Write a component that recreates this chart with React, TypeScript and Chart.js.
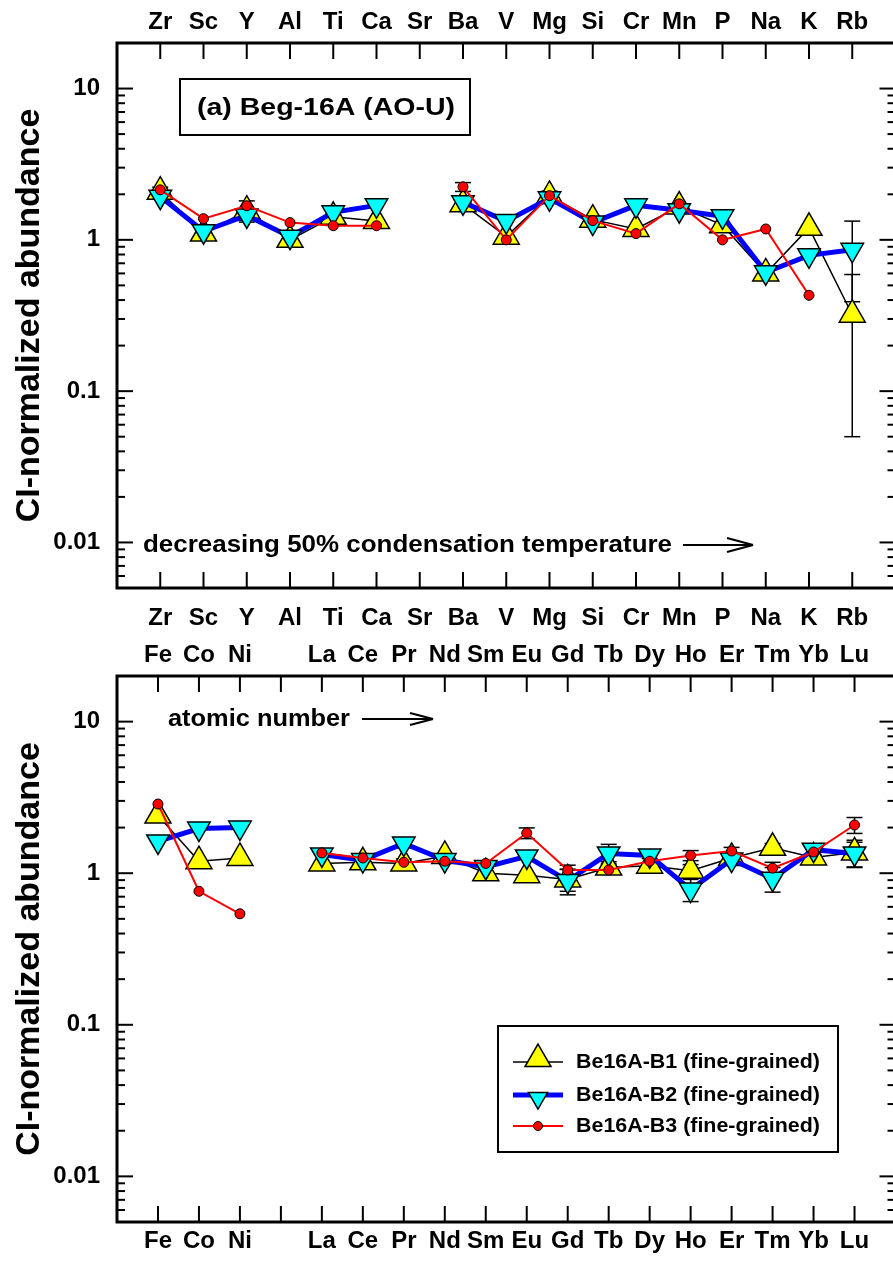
import React, { useEffect, useRef } from 'react';
import { Chart, registerables } from 'chart.js';

Chart.register(...registerables);

const FONT = '"Liberation Sans", Arial, Helvetica, sans-serif';

// ---------- data: panel (a), ordered by decreasing 50% condensation temperature ----------
const TOP_LABELS = ['Zr', 'Sc', 'Y', 'Al', 'Ti', 'Ca', 'Sr', 'Ba', 'V', 'Mg', 'Si', 'Cr', 'Mn', 'P', 'Na', 'K', 'Rb'];
const TOP_B1 = [2.08, 1.1, 1.56, 1.0, 1.42, 1.33, null, 1.72, 1.05, 1.95, 1.36, 1.18, 1.66, 1.25, 0.6, 1.2, 0.32];
const TOP_B2 = [1.93, 1.14, 1.45, 1.05, 1.52, 1.69, null, 1.77, 1.33, 1.88, 1.3, 1.69, 1.57, 1.43, 0.61, 0.79, 0.86];
const TOP_B3 = [2.14, 1.38, 1.68, 1.3, 1.24, 1.24, null, 2.24, 1.0, 1.96, 1.34, 1.1, 1.73, 1.0, 1.18, 0.43, null];
const TOP_B1_ERR = [0.15, null, 0.25, null, null, null, null, null, null, 0.15, null, null, null, null, null, null, 0.27];
const TOP_B2_ERR = [null, null, 0.1, null, null, null, null, null, null, null, null, null, null, null, null, null, 0.47];
const TOP_B3_ERR = [null, null, null, null, null, null, null, 0.15, null, null, null, null, null, null, null, null, null];

// ---------- data: lower panel, ordered by atomic number ----------
const BOT_LABELS = ['Fe', 'Co', 'Ni', '', 'La', 'Ce', 'Pr', 'Nd', 'Sm', 'Eu', 'Gd', 'Tb', 'Dy', 'Ho', 'Er', 'Tm', 'Yb', 'Lu'];
const BOT_B1 = [2.4, 1.2, 1.26, null, 1.16, 1.18, 1.16, 1.3, 1.0, 0.97, 0.91, 1.09, 1.12, 1.04, 1.26, 1.47, 1.27, 1.37];
const BOT_B2 = [1.62, 1.97, 2.0, null, 1.33, 1.22, 1.57, 1.22, 1.1, 1.29, 0.89, 1.35, 1.31, 0.78, 1.23, 0.92, 1.43, 1.35];
const BOT_B3 = [2.86, 0.76, 0.54, null, 1.36, 1.26, 1.18, 1.2, 1.16, 1.84, 1.05, 1.05, 1.2, 1.31, 1.4, 1.08, 1.38, 2.08];
const BOT_B1_ERR = [null, null, null, null, null, null, 0.08, null, 0.08, null, 0.15, 0.1, null, 0.1, null, 0.1, null, 0.28];
const BOT_B2_ERR = [null, null, null, null, null, null, 0.1, null, null, null, 0.17, 0.2, null, 0.13, null, 0.17, 0.1, 0.25];
const BOT_B3_ERR = [null, null, null, null, null, null, null, null, null, 0.15, 0.08, null, 0.05, 0.1, 0.08, 0.1, 0.08, 0.25];

const SERIES_NAMES = ['Be16A-B1 (fine-grained)', 'Be16A-B2 (fine-grained)', 'Be16A-B3 (fine-grained)'];
const Y_MIN = 0.005;
const Y_MAX = 20;
const Y_TICKS = [0.01, 0.1, 1, 10];
const Y_TITLE = 'CI-normalized abundance';
const PANEL_TITLE = '(a) Beg-16A (AO-U)';
const TOP_NOTE = 'decreasing 50% condensation temperature';
const BOT_NOTE = 'atomic number';

// ---------- styles ----------
const STYLES = [
  { borderColor: '#000000', borderWidth: 1.5, pointStyle: 'triangle', pointRotation: 0, pointRadius: 15, pointBackgroundColor: '#FFFF00', pointBorderColor: '#000000', pointBorderWidth: 1.5, order: 3 },
  { borderColor: '#0000FF', borderWidth: 5, pointStyle: 'triangle', pointRotation: 180, pointRadius: 13, pointBackgroundColor: '#00FFFF', pointBorderColor: '#000000', pointBorderWidth: 1.5, order: 2 },
  { borderColor: '#FF0000', borderWidth: 2, pointStyle: 'circle', pointRotation: 0, pointRadius: 5, pointBackgroundColor: '#FF0000', pointBorderColor: '#000000', pointBorderWidth: 1, order: 1 },
];

function makeDatasets(vals: (number | null)[][], errs: (number | null)[][]) {
  return vals.map((v, k) => ({
    label: SERIES_NAMES[k],
    data: v.map((y, i) => ({ x: i, y })),
    errors: errs[k],
    tension: 0,
    spanGaps: false,
    fill: false,
    pointHoverRadius: STYLES[k].pointRadius,
    ...STYLES[k],
  }));
}

function line(ctx: CanvasRenderingContext2D, x1: number, y1: number, x2: number, y2: number) {
  ctx.beginPath();
  ctx.moveTo(x1, y1);
  ctx.lineTo(x2, y2);
  ctx.stroke();
}

function stretchText(ctx: CanvasRenderingContext2D, text: string, x: number, y: number, size: number, width: number) {
  ctx.save();
  ctx.font = `bold ${size}px ${FONT}`;
  const w = ctx.measureText(text).width;
  ctx.translate(x, y);
  ctx.scale(width / w, 1);
  ctx.fillStyle = '#000';
  ctx.textAlign = 'left';
  ctx.textBaseline = 'middle';
  ctx.fillText(text, 0, 0);
  ctx.restore();
}

function arrow(ctx: CanvasRenderingContext2D, x1: number, x2: number, y: number, hl: number, hw: number) {
  ctx.save();
  ctx.strokeStyle = '#000';
  ctx.lineWidth = 2.2;
  ctx.lineCap = 'butt';
  line(ctx, x1, y, x2, y);
  line(ctx, x2 - hl, y - hw, x2, y);
  line(ctx, x2 - hl, y + hw, x2, y);
  ctx.restore();
}

function drawMarker(ctx: CanvasRenderingContext2D, s: any, x: number, y: number, r: number) {
  ctx.save();
  ctx.fillStyle = s.pointBackgroundColor;
  ctx.strokeStyle = s.pointBorderColor;
  ctx.lineWidth = s.pointBorderWidth;
  ctx.beginPath();
  if (s.pointStyle === 'circle') {
    ctx.arc(x, y, r, 0, Math.PI * 2);
  } else {
    let rad = (s.pointRotation * Math.PI) / 180;
    for (let i = 0; i < 3; i++) {
      const px = x + Math.sin(rad) * r;
      const py = y - Math.cos(rad) * r;
      if (i === 0) ctx.moveTo(px, py);
      else ctx.lineTo(px, py);
      rad += (2 * Math.PI) / 3;
    }
    ctx.closePath();
  }
  ctx.fill();
  ctx.stroke();
  ctx.restore();
}

const framePlugin = {
  id: 'frame',
  afterDraw(chart: any) {
    const { ctx, chartArea: a, scales } = chart;
    const y = scales.y;
    const x = scales.x;
    const n = chart.options.plugins.frame.count;
    ctx.save();
    ctx.strokeStyle = '#000';
    ctx.lineWidth = 2;
    for (let d = -3; d <= 1; d++) {
      for (let k = 1; k <= 9; k++) {
        const v = k * Math.pow(10, d);
        if (v < Y_MIN || v > Y_MAX) continue;
        const py = y.getPixelForValue(v);
        const len = k === 1 ? 16 : 8;
        line(ctx, a.left, py, a.left + len, py);
        line(ctx, a.right, py, a.right - len, py);
      }
    }
    for (let i = 0; i < n; i++) {
      const px = x.getPixelForValue(i);
      line(ctx, px, a.top, px, a.top + 16);
      line(ctx, px, a.bottom, px, a.bottom - 16);
    }
    ctx.lineWidth = 3;
    ctx.strokeRect(a.left, a.top, a.right - a.left, a.bottom - a.top);
    ctx.restore();
  },
};

const errorBarPlugin = {
  id: 'errorBars',
  beforeDatasetsDraw(chart: any) {
    const { ctx, scales } = chart;
    const x = scales.x;
    const y = scales.y;
    ctx.save();
    ctx.strokeStyle = '#000';
    ctx.lineWidth = 1.5;
    chart.data.datasets.forEach((ds: any) => {
      const errs = ds.errors;
      if (!errs) return;
      ds.data.forEach((p: any, i: number) => {
        const e = errs[i];
        if (e == null || p.y == null) return;
        const lo = Math.max(p.y - e, Y_MIN);
        const hi = p.y + e;
        const px = x.getPixelForValue(p.x);
        const y1 = y.getPixelForValue(lo);
        const y2 = y.getPixelForValue(hi);
        line(ctx, px, y1, px, y2);
        line(ctx, px - 8, y1, px + 8, y1);
        line(ctx, px - 8, y2, px + 8, y2);
      });
    });
    ctx.restore();
  },
};

const topNotes = {
  id: 'topNotes',
  afterDraw(chart: any) {
    const { ctx } = chart;
    ctx.save();
    ctx.strokeStyle = '#000';
    ctx.lineWidth = 2;
    ctx.strokeRect(180, 79, 290, 56);
    ctx.restore();
    stretchText(ctx, PANEL_TITLE, 197, 108, 24, 258);
    stretchText(ctx, TOP_NOTE, 143, 545, 24, 529);
    arrow(ctx, 683, 753, 545, 26, 7);
  },
};

const bottomNotes = {
  id: 'bottomNotes',
  afterDraw(chart: any) {
    const { ctx } = chart;
    stretchText(ctx, BOT_NOTE, 168, 82, 24, 182);
    arrow(ctx, 362, 433, 82, 23, 6);
    // legend
    ctx.save();
    ctx.fillStyle = '#fff';
    ctx.fillRect(498, 389, 340, 126);
    ctx.strokeStyle = '#000';
    ctx.lineWidth = 2;
    ctx.strokeRect(498, 389, 340, 126);
    ctx.restore();
    const rows = [425, 458, 489];
    const legendR = [15, 11, 4.5];
    chart.data.datasets.forEach((ds: any, k: number) => {
      const s = STYLES[k];
      const yy = rows[k];
      ctx.save();
      ctx.strokeStyle = s.borderColor;
      ctx.lineWidth = s.borderWidth;
      line(ctx, 513, yy, 563, yy);
      ctx.restore();
      drawMarker(ctx, s, 538, k === 0 ? yy - 3 : k === 1 ? yy + 3 : yy, legendR[k]);
      stretchText(ctx, ds.label, 576, yy, 21, 244);
    });
  },
};

function buildConfig(labels: string[], datasets: any[], opts: any, extra: any) {
  const tickFont = { family: FONT, size: 24, weight: 'bold' as const };
  const xAxis = (position: string, pad: number, height: number) => ({
    type: 'linear',
    position,
    min: -1,
    max: labels.length,
    grid: { display: false, drawTicks: false },
    border: { display: false },
    afterBuildTicks: (s: any) => {
      s.ticks = labels.map((_, i) => ({ value: i }));
    },
    afterFit: (s: any) => {
      s.height = height;
    },
    ticks: {
      autoSkip: false,
      maxRotation: 0,
      minRotation: 0,
      padding: pad,
      color: '#000',
      font: tickFont,
      callback: (v: number) => labels[v] ?? '',
    },
  });
  return {
    type: 'line',
    data: { datasets },
    options: {
      animation: false,
      responsive: false,
      maintainAspectRatio: false,
      devicePixelRatio: 1,
      layout: { padding: { left: 0, right: opts.padRight, top: 0, bottom: 0 } },
      plugins: {
        legend: { display: false },
        tooltip: { enabled: false },
        frame: { count: labels.length },
      },
      scales: {
        x: xAxis('bottom', opts.bottomPad, opts.bottomHeight),
        x2: xAxis('top', opts.topPad, opts.topHeight),
        y: {
          type: 'logarithmic',
          position: 'left',
          min: Y_MIN,
          max: Y_MAX,
          grid: { display: false, drawTicks: false },
          border: { display: false },
          afterBuildTicks: (s: any) => {
            s.ticks = Y_TICKS.map((v) => ({ value: v }));
          },
          afterFit: (s: any) => {
            s.width = 117;
          },
          ticks: {
            autoSkip: false,
            padding: 17,
            color: '#000',
            font: tickFont,
            callback: (v: number) => String(v),
          },
          title: {
            display: true,
            text: Y_TITLE,
            color: '#000',
            font: { family: FONT, size: 34, weight: 'bold' },
            padding: { top: 9, bottom: 0 },
          },
        },
      },
    },
    plugins: [errorBarPlugin, framePlugin, extra],
  };
}

export default function App() {
  const topRef = useRef<HTMLCanvasElement>(null);
  const botRef = useRef<HTMLCanvasElement>(null);

  useEffect(() => {
    const topChart = new Chart(
      topRef.current as HTMLCanvasElement,
      buildConfig(
        TOP_LABELS,
        makeDatasets([TOP_B1, TOP_B2, TOP_B3], [TOP_B1_ERR, TOP_B2_ERR, TOP_B3_ERR]),
        { padRight: 15.7, bottomPad: 16, bottomHeight: 52, topPad: 6, topHeight: 43 },
        topNotes
      ) as any
    );
    const botChart = new Chart(
      botRef.current as HTMLCanvasElement,
      buildConfig(
        BOT_LABELS,
        makeDatasets([BOT_B1, BOT_B2, BOT_B3], [BOT_B1_ERR, BOT_B2_ERR, BOT_B3_ERR]),
        { padRight: 12.4, bottomPad: 5, bottomHeight: 46, topPad: 6, topHeight: 39 },
        bottomNotes
      ) as any
    );
    return () => {
      topChart.destroy();
      botChart.destroy();
    };
  }, []);

  return (
    <div style={{ position: 'absolute', left: 0, top: 0, width: 893, height: 1268, overflow: 'hidden', background: '#fff' }}>
      <canvas ref={topRef} width={912} height={640} style={{ position: 'absolute', left: 0, top: 0, width: 912, height: 640 }} />
      <canvas ref={botRef} width={912} height={631} style={{ position: 'absolute', left: 0, top: 637, width: 912, height: 631 }} />
    </div>
  );
}
